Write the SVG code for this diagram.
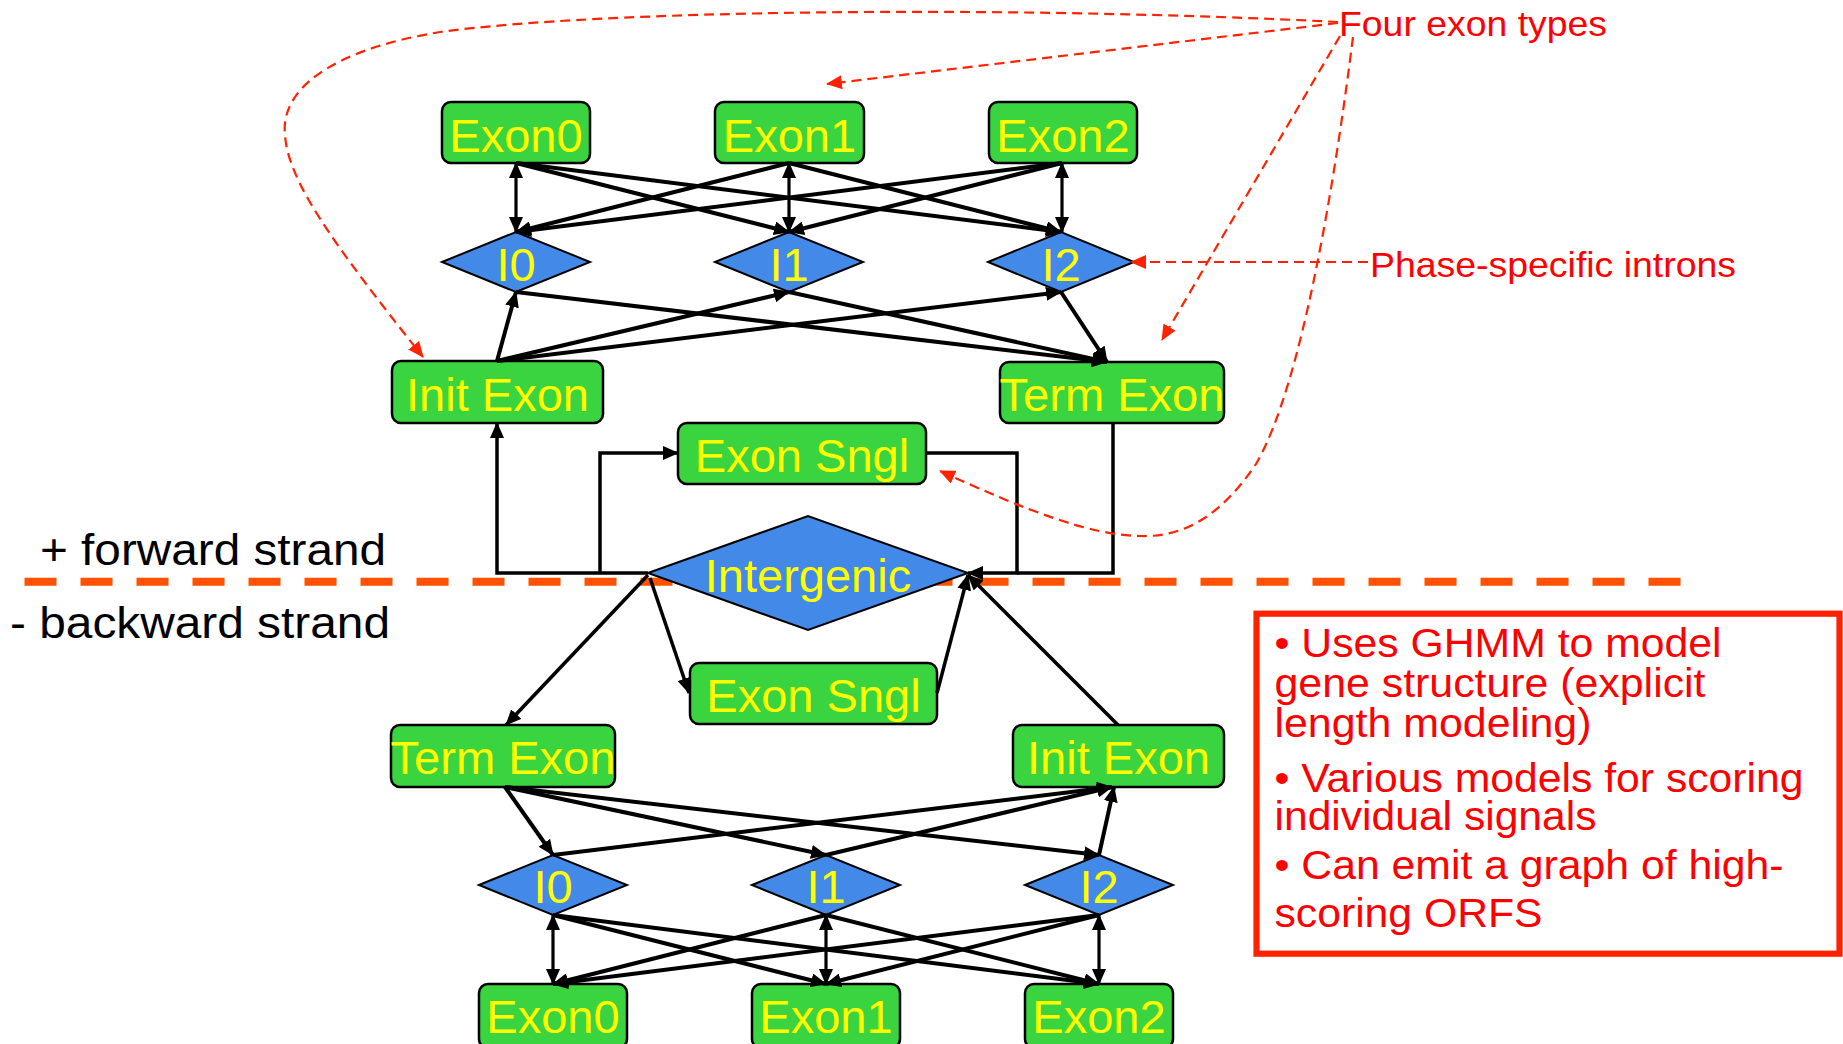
<svg xmlns="http://www.w3.org/2000/svg" width="1843" height="1044" viewBox="0 0 1843 1044">
<style>
.ex{fill:#3AD440;stroke:#000;stroke-width:2.5}
.in{fill:#4389E8;stroke:#000;stroke-width:2}
.lb{font-family:"Liberation Sans",Arial,Helvetica,sans-serif;font-size:47px;fill:#FFFF00;text-anchor:middle}
.c{fill:none;stroke:#000;stroke-width:4}
.v{fill:none;stroke:#000;stroke-width:3.2}
.p{fill:none;stroke:#000;stroke-width:3.5}
.r{fill:none;stroke:#FF2200;stroke-width:2.2;stroke-dasharray:10 6}
.rt{font-family:"Liberation Sans",Arial,Helvetica,sans-serif;fill:#FF0000}
.bt{font-family:"Liberation Sans",Arial,Helvetica,sans-serif;font-size:40px;fill:#FF0000}
.st{font-family:"Liberation Sans",Arial,Helvetica,sans-serif;font-size:44px;fill:#000}
</style>
<defs>
<marker id="ah" viewBox="0 0 16 14" markerWidth="16" markerHeight="14" refX="15" refY="7" orient="auto-start-reverse" markerUnits="userSpaceOnUse"><path d="M0,0 L16,7 L0,14 z" fill="#000"/></marker>
<marker id="rah" viewBox="0 0 16 14" markerWidth="16" markerHeight="14" refX="15" refY="7" orient="auto" markerUnits="userSpaceOnUse"><path d="M0,0 L16,7 L0,14 z" fill="#FF2200"/></marker>
</defs>
<rect width="1843" height="1044" fill="#fff"/>

<g id="strand-divider">
<line x1="24.5" y1="581.7" x2="1681" y2="581.7" stroke="#FF5100" stroke-width="8" stroke-dasharray="32 24"/>
<text class="st" x="40" y="565" textLength="346" lengthAdjust="spacingAndGlyphs">+ forward strand</text>
<text class="st" x="10" y="638" textLength="380" lengthAdjust="spacingAndGlyphs">- backward strand</text>
</g>

<!-- forward strand nodes -->
<g id="f-exon0"><rect class="ex" x="442" y="102" width="148" height="61" rx="9"/><text class="lb" x="516" y="151.5">Exon0</text></g>
<g id="f-exon1"><rect class="ex" x="715" y="102" width="149" height="61" rx="9"/><text class="lb" x="789.5" y="151.5">Exon1</text></g>
<g id="f-exon2"><rect class="ex" x="989" y="102" width="148" height="61" rx="9"/><text class="lb" x="1063" y="151.5">Exon2</text></g>
<g id="f-i0"><polygon class="in" points="442,262 516,232 590,262 516,292"/><text class="lb" x="516" y="281">I0</text></g>
<g id="f-i1"><polygon class="in" points="715,262 789,232 863,262 789,292"/><text class="lb" x="789" y="281">I1</text></g>
<g id="f-i2"><polygon class="in" points="988,262 1061,232 1134,262 1061,292"/><text class="lb" x="1061" y="281">I2</text></g>
<g id="f-init"><rect class="ex" x="392" y="361" width="211" height="62" rx="9"/><text class="lb" x="497.5" y="411">Init Exon</text></g>
<g id="f-term"><rect class="ex" x="1000" y="362" width="224" height="61" rx="9"/><text class="lb" x="1112" y="411" textLength="225" lengthAdjust="spacingAndGlyphs">Term Exon</text></g>
<g id="f-sngl"><rect class="ex" x="678" y="423" width="248" height="61" rx="9"/><text class="lb" x="802" y="472">Exon Sngl</text></g>

<g id="intergenic"><polygon class="in" points="648,573 808,516 968,573 808,630"/><text class="lb" x="808" y="592">Intergenic</text></g>

<!-- backward strand nodes -->
<g id="b-sngl"><rect class="ex" x="690" y="663" width="247" height="61" rx="9"/><text class="lb" x="813.5" y="712">Exon Sngl</text></g>
<g id="b-term"><rect class="ex" x="391" y="725" width="224" height="62" rx="9"/><text class="lb" x="503" y="774" textLength="225" lengthAdjust="spacingAndGlyphs">Term Exon</text></g>
<g id="b-init"><rect class="ex" x="1013" y="725" width="211" height="62" rx="9"/><text class="lb" x="1118.5" y="774">Init Exon</text></g>
<g id="b-i0"><polygon class="in" points="479,885 553,855 627,885 553,915"/><text class="lb" x="553" y="903">I0</text></g>
<g id="b-i1"><polygon class="in" points="752,885 826,855 900,885 826,915"/><text class="lb" x="826" y="903">I1</text></g>
<g id="b-i2"><polygon class="in" points="1025,885 1099,855 1173,885 1099,915"/><text class="lb" x="1099" y="903">I2</text></g>
<g id="b-exon0"><rect class="ex" x="479" y="984" width="148" height="64" rx="9"/><text class="lb" x="553" y="1033">Exon0</text></g>
<g id="b-exon1"><rect class="ex" x="752" y="984" width="148" height="64" rx="9"/><text class="lb" x="826" y="1033">Exon1</text></g>
<g id="b-exon2"><rect class="ex" x="1025" y="984" width="148" height="64" rx="9"/><text class="lb" x="1099" y="1033">Exon2</text></g>

<g id="connectors">
<!-- forward: exon <-> intron -->
<line class="v" x1="516" y1="163" x2="516" y2="232" marker-start="url(#ah)" marker-end="url(#ah)"/>
<line class="v" x1="789" y1="163" x2="789" y2="232" marker-start="url(#ah)" marker-end="url(#ah)"/>
<line class="v" x1="1062" y1="163" x2="1062" y2="232" marker-start="url(#ah)" marker-end="url(#ah)"/>
<line class="c" x1="516" y1="163" x2="789" y2="232" marker-end="url(#ah)"/>
<line class="c" x1="516" y1="163" x2="1061" y2="232" marker-end="url(#ah)"/>
<line class="c" x1="789" y1="163" x2="516" y2="232" marker-end="url(#ah)"/>
<line class="c" x1="789" y1="163" x2="1061" y2="232" marker-end="url(#ah)"/>
<line class="c" x1="1062" y1="163" x2="516" y2="232" marker-end="url(#ah)"/>
<line class="c" x1="1062" y1="163" x2="789" y2="232" marker-end="url(#ah)"/>
<!-- forward: init -> introns -> term -->
<line class="c" x1="497" y1="361" x2="516" y2="292" marker-end="url(#ah)"/>
<line class="c" x1="497" y1="361" x2="789" y2="292" marker-end="url(#ah)"/>
<line class="c" x1="497" y1="361" x2="1061" y2="292" marker-end="url(#ah)"/>
<line class="c" x1="516" y1="292" x2="1107" y2="362" marker-end="url(#ah)"/>
<line class="c" x1="789" y1="292" x2="1107" y2="362" marker-end="url(#ah)"/>
<line class="c" x1="1061" y1="292" x2="1107" y2="362" marker-end="url(#ah)"/>
<!-- forward: intergenic loops -->
<polyline class="p" points="648,573 497,573 497,423" marker-end="url(#ah)"/>
<polyline class="p" points="600,573 600,453 678,453" marker-end="url(#ah)"/>
<polyline class="p" points="926,453 1017,453 1017,573 968,573" marker-end="url(#ah)"/>
<polyline class="p" points="1113,423 1113,573 1017,573"/>
<!-- backward: intergenic loops -->
<line class="p" x1="648" y1="575" x2="506" y2="725" marker-end="url(#ah)"/>
<line class="p" x1="650" y1="578" x2="689" y2="693" marker-end="url(#ah)"/>
<line class="p" x1="937" y1="693" x2="968" y2="575" marker-end="url(#ah)"/>
<line class="p" x1="1118" y1="725" x2="968" y2="575" marker-end="url(#ah)"/>
<!-- backward: term -> introns -> init -->
<line class="c" x1="505" y1="787" x2="553" y2="855" marker-end="url(#ah)"/>
<line class="c" x1="505" y1="787" x2="826" y2="855" marker-end="url(#ah)"/>
<line class="c" x1="505" y1="787" x2="1099" y2="855" marker-end="url(#ah)"/>
<line class="c" x1="553" y1="855" x2="1112" y2="787" marker-end="url(#ah)"/>
<line class="c" x1="826" y1="855" x2="1112" y2="787" marker-end="url(#ah)"/>
<line class="c" x1="1099" y1="855" x2="1114" y2="787" marker-end="url(#ah)"/>
<!-- backward: intron <-> exon -->
<line class="v" x1="553" y1="915" x2="553" y2="984" marker-start="url(#ah)" marker-end="url(#ah)"/>
<line class="v" x1="826" y1="915" x2="826" y2="984" marker-start="url(#ah)" marker-end="url(#ah)"/>
<line class="v" x1="1099" y1="915" x2="1099" y2="984" marker-start="url(#ah)" marker-end="url(#ah)"/>
<line class="c" x1="553" y1="915" x2="826" y2="984" marker-end="url(#ah)"/>
<line class="c" x1="553" y1="915" x2="1099" y2="984" marker-end="url(#ah)"/>
<line class="c" x1="826" y1="915" x2="553" y2="984" marker-end="url(#ah)"/>
<line class="c" x1="826" y1="915" x2="1099" y2="984" marker-end="url(#ah)"/>
<line class="c" x1="1099" y1="915" x2="553" y2="984" marker-end="url(#ah)"/>
<line class="c" x1="1099" y1="915" x2="826" y2="984" marker-end="url(#ah)"/>
</g>

<g id="annotations">
<text class="rt" x="1339" y="35.5" font-size="35" textLength="268" lengthAdjust="spacingAndGlyphs">Four exon types</text>
<text class="rt" x="1370" y="276.5" font-size="35" textLength="366" lengthAdjust="spacingAndGlyphs">Phase-specific introns</text>
<path class="r" d="M1338,22 C1000,5 600,10 440,32 C330,50 280,90 285,135 C288,180 330,240 423,357" marker-end="url(#rah)"/>
<line class="r" x1="1338" y1="23" x2="827" y2="84" marker-end="url(#rah)"/>
<line class="r" x1="1340" y1="36" x2="1162" y2="340" marker-end="url(#rah)"/>
<path class="r" d="M1353,37 C1335,180 1302,385 1256,464 C1215,525 1175,537 1140,536 C1090,535 1030,512 940,471" marker-end="url(#rah)"/>
<line class="r" x1="1368" y1="262" x2="1131" y2="262" marker-end="url(#rah)"/>
</g>

<g id="notes">
<rect x="1256.5" y="613.7" width="583" height="340" fill="none" stroke="#FF2200" stroke-width="6.2"/>
<text class="bt" x="1274.5" y="657" textLength="447" lengthAdjust="spacingAndGlyphs">• Uses GHMM to model</text>
<text class="bt" x="1274.5" y="697" textLength="431" lengthAdjust="spacingAndGlyphs">gene structure (explicit</text>
<text class="bt" x="1274.5" y="737" textLength="317" lengthAdjust="spacingAndGlyphs">length modeling)</text>
<text class="bt" x="1274.5" y="792" textLength="529" lengthAdjust="spacingAndGlyphs">• Various models for scoring</text>
<text class="bt" x="1274.5" y="830" textLength="322" lengthAdjust="spacingAndGlyphs">individual signals</text>
<text class="bt" x="1274.5" y="879" textLength="509" lengthAdjust="spacingAndGlyphs">• Can emit a graph of high-</text>
<text class="bt" x="1274.5" y="927" textLength="268" lengthAdjust="spacingAndGlyphs">scoring ORFS</text>
</g>
</svg>
